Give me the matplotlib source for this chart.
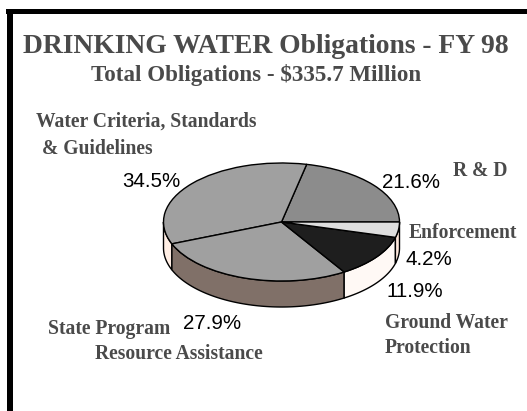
import numpy as np
import matplotlib
matplotlib.use("Agg")
import matplotlib.pyplot as plt
from matplotlib.patches import Rectangle

W, H = 527, 411

# R & D first, going counterclockwise from the east
shares = [21.6, 34.5, 27.9, 11.9, 4.2]
share_labels = ['21.6%', '34.5%', '27.9%', '11.9%', '4.2%']
top_colors = ['#8c8c8c', '#a0a0a0', '#a0a0a0', '#1e1e1e', '#dedede']
side_colors = ['#ffffff', '#ffeee4', '#807068', '#fff9f5', '#ffe8dc']

title = 'DRINKING WATER Obligations - FY 98'
subtitle = 'Total Obligations - $335.7 Million'
names = ['Water Criteria, Standards', '& Guidelines', 'R & D', 'Enforcement',
         'Ground Water', 'Protection', 'State Program', 'Resource Assistance']
name_pos = [(36, 127), (42, 154), (453, 176), (409, 238),
            (385, 328), (385, 353), (48, 334), (95, 359)]
pct_pos = [(382, 188), (122, 187), (183, 329), (387, 297), (406, 265)]

SERIF = 'Liberation Serif'
SANS = 'Liberation Sans'
GREY = '#4a4a4a'


def px_text(fig, x, y, s, **kw):
    fig.text(x / W, 1 - y / H, s, ha='left', va='baseline', **kw)


def main():
    fig = plt.figure(figsize=(W / 100, H / 100), dpi=100, facecolor='white')

    # black frame, top and left only
    fig.add_artist(Rectangle((6 / W, 1 - 14.5 / H), 1, 5.5 / H, transform=fig.transFigure,
                             fc='black', ec='none'))
    fig.add_artist(Rectangle((7 / W, 0), 6 / W, 1 - 9 / H, transform=fig.transFigure,
                             fc='black', ec='none'))

    # axes box is the top ellipse of the pie, x and y unit radius
    cx, cy, rx, ry = 281.5, 222, 118, 59
    depth = 26 / ry
    ax = fig.add_axes([(cx - rx) / W, 1 - (cy + ry) / H, 2 * rx / W, 2 * ry / H])
    ax.pie(shares, colors=top_colors, startangle=0, counterclock=True, radius=1,
           wedgeprops=dict(edgecolor='black', linewidth=1.0, clip_on=False, zorder=3))
    ax.set_aspect('auto')
    ax.set_xlim(-1, 1)
    ax.set_ylim(-1, 1)

    # extruded rim, only the front half of the ellipse shows
    edges = np.cumsum([0] + shares) / sum(shares) * 360
    for i, c in enumerate(side_colors):
        a0, a1 = max(edges[i], 180), edges[i + 1]
        if a1 <= a0:
            continue
        t = np.radians(np.linspace(a0, a1, 80))
        xs = np.r_[np.cos(t), np.cos(t[::-1])]
        ys = np.r_[np.sin(t), np.sin(t[::-1]) - depth]
        ax.fill(xs, ys, fc=c, ec='black', lw=1.0, clip_on=False, zorder=1)

    px_text(fig, 23, 53, title, family=SERIF, weight='bold', color=GREY, fontsize=19.9)
    px_text(fig, 91, 81, subtitle, family=SERIF, weight='bold', color=GREY, fontsize=16.6)
    for (x, y), s in zip(name_pos, names):
        px_text(fig, x, y, s, family=SERIF, weight='bold', color=GREY, fontsize=14.1)
    for (x, y), s in zip(pct_pos, share_labels):
        px_text(fig, x, y, s, family=SANS, color='black', fontsize=14.8)

    fig.savefig('out.png', dpi=100)


if __name__ == "__main__":
    main()
